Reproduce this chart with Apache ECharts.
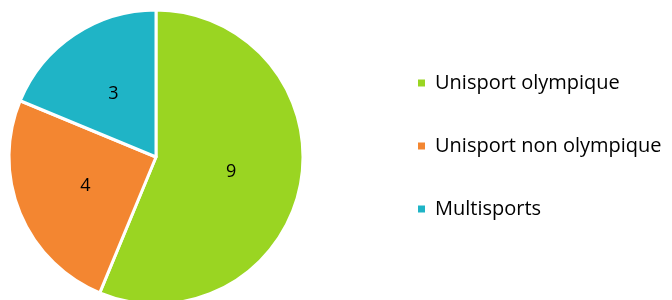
<!DOCTYPE html>
<html>
<head>
<meta charset="utf-8">
<script src="https://cdn.jsdelivr.net/npm/echarts@6/dist/echarts.min.js"></script>
<style>
  html, body { margin: 0; padding: 0; background: #fff; }
  #chart { width: 672px; height: 300px; }
</style>
</head>
<body>
<div id="chart"></div>
<script>
var categories = ['Unisport olympique', 'Unisport non olympique', 'Multisports'];
var values = [9, 4, 3];
var colors = ['#9AD522', '#F38631', '#1FB4C6'];

var pieData = [];
for (var i = 0; i < categories.length; i++) {
    pieData.push({ name: categories[i], value: values[i], itemStyle: { color: colors[i] } });
}

var myChart = echarts.init(document.getElementById('chart'));

var option = {
    animation: false,
    legend: {
        orient: 'vertical',
        left: 411,
        top: 68,
        itemWidth: 9,
        itemHeight: 9,
        itemGap: 43,
        icon: 'rect',
        textStyle: {
            fontFamily: 'Open Sans',
            fontSize: 20,
            lineHeight: 20,
            color: '#000',
            padding: [0, 0, 0, 4]
        },
        data: categories
    },
    series: [
        {
            type: 'pie',
            center: [156, 157],
            radius: 147,
            startAngle: 90,
            clockwise: true,
            data: pieData,
            itemStyle: {
                borderColor: '#fff',
                borderWidth: 3
            },
            label: {
                show: true,
                position: 'inside',
                formatter: '{c}',
                fontFamily: 'Open Sans',
                fontSize: 18,
                color: '#000'
            },
            labelLine: { show: false }
        }
    ]
};

myChart.setOption(option);
</script>
</body>
</html>
